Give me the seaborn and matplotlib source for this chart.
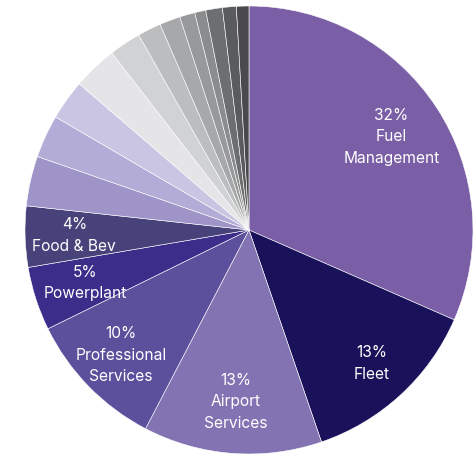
import matplotlib
matplotlib.use("Agg")
import matplotlib.pyplot as plt
import seaborn as sns
import numpy as np

categories = ["Fuel Management", "Fleet", "Airport Services", "Professional Services",
              "Powerplant", "Food & Bev", "Other 1", "Other 2", "Other 3", "Other 4",
              "Other 5", "Other 6", "Other 7", "Other 8", "Other 9", "Other 10",
              "Other 11", "Other 12"]
values = [31.6, 13.2, 12.9, 10.1, 4.6, 4.4, 3.6, 3.1, 2.9, 3.2,
          2.3, 1.7, 1.5, 1.1, 0.8, 1.2, 1.0, 0.9]
labels = ["32%\nFuel\nManagement", "13%\nFleet", "13%\nAirport\nServices",
          "10%\nProfessional\nServices", "5%\nPowerplant", "4%\nFood & Bev",
          "", "", "", "", "", "", "", "", "", "", "", ""]
colors = ["#7a5fa6", "#19125a", "#8373b2", "#5c4f9c", "#3c2d8b", "#47427a",
          "#9e94c8", "#b3acd6", "#c9c5e3", "#e5e5e7", "#d1d2d4", "#bcbdbf",
          "#a7a8aa", "#98999b", "#8b8c8e", "#6d6e70", "#5a5b5d", "#4a4a4c"]

sns.set_theme(style="white")
plt.rcParams["font.family"] = ["Inter", "DejaVu Sans"]
palette = sns.color_palette(colors)

fig = plt.figure(figsize=(4.77, 4.57), dpi=100)
ax = fig.add_axes([25 / 477, 3 / 457, 448 / 477, 448 / 457])
wedges, _ = ax.pie(values, colors=palette, startangle=90, counterclock=False,
                   radius=1.0,
                   wedgeprops=dict(edgecolor="white", linewidth=0.4))
ax.set_xlim(-1, 1)
ax.set_ylim(-1, 1)
ax.set_aspect("equal")

label_r = {0: 0.76, 1: 0.81, 2: 0.77, 3: 0.80, 4: 0.77, 5: 0.78}
for i, (w, lab) in enumerate(zip(wedges, labels)):
    if not lab:
        continue
    ang = np.deg2rad((w.theta1 + w.theta2) / 2)
    r = label_r.get(i, 0.77)
    ax.text(r * np.cos(ang), r * np.sin(ang), lab, ha="center", va="center",
            color="white", fontsize=11.2, linespacing=1.55)

fig.savefig("out.png", dpi=100)
